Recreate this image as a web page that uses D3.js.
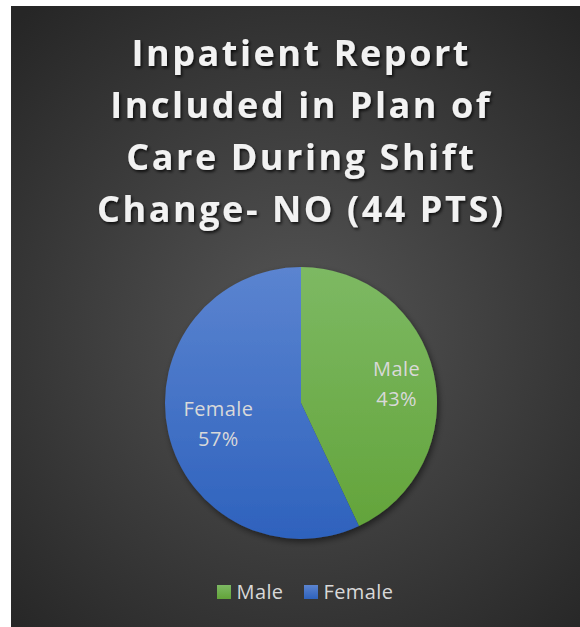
<!DOCTYPE html>
<html>
<head>
<meta charset="utf-8">
<script src="https://cdn.jsdelivr.net/npm/d3@7"></script>
<style>
  html, body { margin: 0; padding: 0; background: #ffffff; }
  svg { display: block; }
</style>
</head>
<body>
<svg id="chart" width="580" height="627"></svg>
<script>
// ---- data ----
const titleLines = ["Inpatient Report", "Included in Plan of", "Care During Shift", "Change- NO (44 PTS)"];
const categories = ["Male", "Female"];
const values = [43, 57];
const labels = ["43%", "57%"];
const colorsTop = ["#7db963", "#5b84d0"];
const colorsBottom = ["#62a339", "#2e62bd"];

// ---- layout ----
const W = 580, H = 627;
const panel = {x: 11, y: 6, w: 569, h: 621};
const cx = 301, cy = 403, R = 136;

const svg = d3.select("#chart");
const defs = svg.append("defs");

const bg = defs.append("radialGradient").attr("id", "bg")
  .attr("gradientUnits", "userSpaceOnUse")
  .attr("cx", 300).attr("cy", 330).attr("r", 420);
bg.append("stop").attr("offset", "0%").attr("stop-color", "#555555");
bg.append("stop").attr("offset", "100%").attr("stop-color", "#262626");

categories.forEach((c, i) => {
  const g = defs.append("linearGradient").attr("id", "grad" + i)
    .attr("gradientUnits", "userSpaceOnUse")
    .attr("x1", 0).attr("y1", -R).attr("x2", 0).attr("y2", R);
  g.append("stop").attr("offset", "0%").attr("stop-color", colorsTop[i]);
  g.append("stop").attr("offset", "100%").attr("stop-color", colorsBottom[i]);
  const lg = defs.append("linearGradient").attr("id", "lg" + i)
    .attr("x1", 0).attr("y1", 0).attr("x2", 0).attr("y2", 1);
  lg.append("stop").attr("offset", "0%").attr("stop-color", colorsTop[i]);
  lg.append("stop").attr("offset", "100%").attr("stop-color", colorsBottom[i]);
});

const tshadow = defs.append("filter").attr("id", "tshadow")
  .attr("x", "-10%").attr("y", "-20%").attr("width", "120%").attr("height", "150%");
tshadow.append("feDropShadow").attr("dx", 1.5).attr("dy", 2).attr("stdDeviation", 1.6)
  .attr("flood-color", "#000").attr("flood-opacity", 0.75);

const pshadow = defs.append("filter").attr("id", "pshadow")
  .attr("x", "-20%").attr("y", "-20%").attr("width", "140%").attr("height", "140%");
pshadow.append("feDropShadow").attr("dx", 2).attr("dy", 3).attr("stdDeviation", 3)
  .attr("flood-color", "#000").attr("flood-opacity", 0.5);

svg.append("rect").attr("x", panel.x).attr("y", panel.y)
  .attr("width", panel.w).attr("height", panel.h).attr("fill", "url(#bg)");

// ---- title ----
const titleG = svg.append("g").attr("filter", "url(#tshadow)");
const baselines = [66, 118, 170, 222];
const titleTexts = titleG.selectAll("text").data(titleLines).join("text")
  .attr("x", 300)
  .attr("y", (d, i) => baselines[i])
  .attr("text-anchor", "middle")
  .attr("font-family", "'Open Sans', sans-serif")
  .attr("font-weight", "bold")
  .attr("font-size", 36)
  .attr("fill", "#f2f2f2")
  .text(d => d);
(function fitSpacing() {
  const node = titleTexts.nodes()[3];
  const w = node.getComputedTextLength();
  const n = titleLines[3].length;
  const ls = Math.max(0, (406 - w) / (n - 1));
  titleTexts.style("letter-spacing", ls + "px").attr("dx", ls / 2);
})();

// ---- pie ----
const pie = d3.pie().sort(null).value(d => d)(values);
const arc = d3.arc().innerRadius(0).outerRadius(R);
const labelArc = d3.arc().innerRadius(R * 0.66).outerRadius(R * 0.66);

const pieG = svg.append("g").attr("transform", `translate(${cx},${cy})`);
pieG.append("g").attr("filter", "url(#pshadow)")
  .selectAll("path").data(pie).join("path")
  .attr("d", arc)
  .attr("fill", (d, i) => `url(#grad${i})`);

const lbl = pieG.selectAll("text.lbl").data(pie).join("text")
  .attr("class", "lbl")
  .attr("text-anchor", "middle")
  .attr("font-family", "'Open Sans', sans-serif")
  .attr("font-size", 20)
  .style("letter-spacing", "0.4px")
  .attr("fill", "#d9d9d9")
  .attr("transform", d => {
    const [x, y] = labelArc.centroid(d);
    return `translate(${x + (d.index === 1 ? 5 : 8)},${y})`;
  });
lbl.append("tspan").attr("x", 0).attr("y", -7).text((d, i) => categories[i]);
lbl.append("tspan").attr("x", 0).attr("y", 23).text((d, i) => labels[i]);

// ---- legend ----
const legendX = [217, 304];
const legend = svg.append("g").selectAll("g").data(categories).join("g")
  .attr("transform", (d, i) => `translate(${legendX[i]},585)`);
legend.append("rect").attr("width", 14).attr("height", 14)
  .attr("fill", (d, i) => `url(#lg${i})`);
legend.append("text").attr("x", 19.5).attr("y", 13.5)
  .attr("font-family", "'Open Sans', sans-serif")
  .attr("font-size", 20)
  .style("letter-spacing", "0.4px")
  .attr("fill", "#d9d9d9")
  .text(d => d);
</script>
</body>
</html>
